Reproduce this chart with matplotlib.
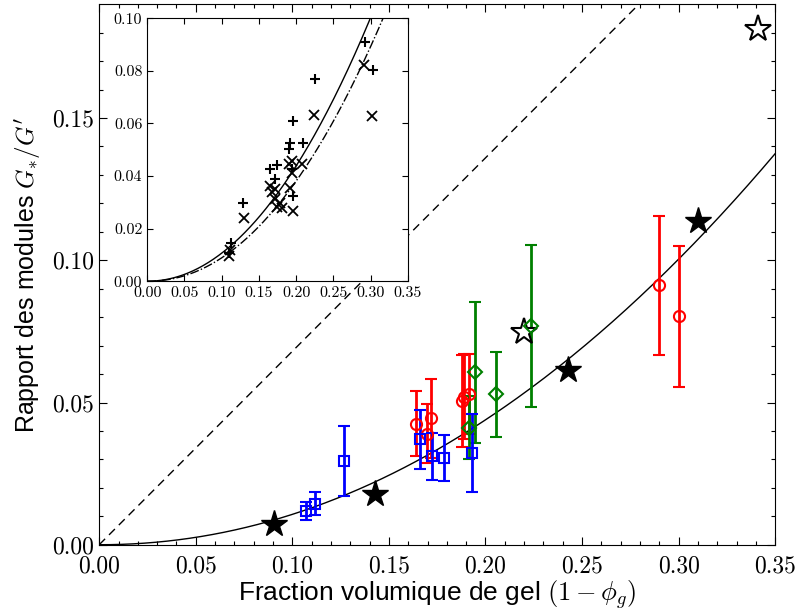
import numpy as np
import matplotlib
matplotlib.use('Agg')
import matplotlib.pyplot as plt

plt.rcParams['mathtext.fontset'] = 'cm'
plt.rcParams['axes.formatter.use_mathtext'] = True
plt.rcParams['font.family'] = ['Liberation Sans', 'DejaVu Sans']

# blue squares
sq_x = [0.1069, 0.1118, 0.1269, 0.1661, 0.1721, 0.1785, 0.1929]
sq_y = [0.0118, 0.0144, 0.0295, 0.0370, 0.0311, 0.0305, 0.0323]
sq_err = [0.0031, 0.0041, 0.0122, 0.0105, 0.0082, 0.0080, 0.0137]

# red circles
ci_x = [0.1640, 0.1695, 0.1718, 0.1876, 0.1890, 0.1915, 0.2897, 0.3000]
ci_y = [0.0426, 0.0391, 0.0444, 0.0505, 0.0520, 0.0530, 0.0912, 0.0803]
ci_err = [0.0113, 0.0105, 0.0140, 0.0162, 0.0150, 0.0142, 0.0245, 0.0247]

# green diamonds
di_x = [0.1916, 0.1946, 0.2056, 0.2234]
di_y = [0.0412, 0.0607, 0.0529, 0.0768]
di_err = [0.0110, 0.0248, 0.0150, 0.0285]

# stars
star_x = [0.0907, 0.1428, 0.2428, 0.3101]
star_y = [0.0072, 0.0180, 0.0613, 0.1138]
ostar_x = [0.2199, 0.3411]
ostar_y = [0.0748, 0.1814]

# inset points
plus_x = [0.2252, 0.2920, 0.3032, 0.1962, 0.2087, 0.1917, 0.1908, 0.1739,
          0.1650, 0.1717, 0.1284, 0.1124, 0.1940, 0.1953, 0.1092]
plus_y = [0.0768, 0.0910, 0.0803, 0.0609, 0.0527, 0.0527, 0.0504, 0.0442,
          0.0428, 0.0387, 0.0296, 0.0146, 0.0425, 0.0324, 0.0108]
cross_x = [0.2238, 0.2911, 0.3023, 0.1092, 0.1105, 0.1293, 0.1953, 0.1940,
           0.1908, 0.1940, 0.1650, 0.1672, 0.1717, 0.1783, 0.1806, 0.2073,
           0.1917, 0.1717, 0.1739]
cross_y = [0.0632, 0.0822, 0.0628, 0.0095, 0.0118, 0.0241, 0.0266, 0.0457,
           0.0444, 0.0412, 0.0362, 0.0339, 0.0311, 0.0298, 0.0279, 0.0444,
           0.0355, 0.0349, 0.0283]

# model curves
xs = np.linspace(0, 0.35, 300)
fit = 0.1375 * (xs / 0.35) ** 2.04
fit2 = 1.12 * xs ** 2.1
lin = 0.68 * xs


def style_axes(ax, size, minor):
    ax.tick_params(which='both', direction='in', top=True, right=True,
                   labelsize=size, labelfontfamily='cmr10', width=0.8)
    ax.tick_params(which='major', length=6)
    ax.tick_params(which='minor', length=3)
    if minor:
        ax.set_xticks(np.arange(0, 0.351, 0.01), minor=True)
        ax.set_yticks(np.arange(0, 0.19, 0.01), minor=True)


fig = plt.figure(figsize=(8, 6.1), dpi=100)
ax = fig.add_axes([0.124, 0.107, 0.845, 0.886])

ax.plot(xs, fit, 'k-', lw=1.0)
ax.plot(xs, lin, 'k-', lw=1.0, dashes=(6, 4))

eb = dict(ls='none', mfc='none', mew=1.5, elinewidth=2, capsize=4.5, capthick=1.5)
ax.errorbar(ci_x, ci_y, yerr=ci_err, marker='o', color='red', ms=8, **eb)
ax.errorbar(di_x, di_y, yerr=di_err, marker='D', color='green', ms=7, **eb)
ax.errorbar(sq_x, sq_y, yerr=sq_err, marker='s', color='blue', ms=7.5, **eb)

ax.plot(star_x, star_y, '*', color='k', ms=20)
ax.plot(ostar_x, ostar_y, '*', mfc='white', mec='k', mew=1.5, ms=20)

ax.set_xlim(0, 0.35)
ax.set_ylim(0, 0.19)
ax.set_xticks(np.arange(0, 0.351, 0.05))
ax.set_yticks(np.arange(0, 0.151, 0.05))
ax.xaxis.set_major_formatter(plt.FormatStrFormatter('%.2f'))
ax.yaxis.set_major_formatter(plt.FormatStrFormatter('%.2f'))
style_axes(ax, 17, True)
ax.tick_params(axis='x', which='major', pad=8)
ax.set_xlabel(r'Fraction volumique de gel $(1-\phi_g)$', fontsize=19, labelpad=0)
ax.set_ylabel(r"Rapport des modules $G_{*}/G'$", fontsize=18, labelpad=7)

# inset
axi = fig.add_axes([0.184, 0.539, 0.326, 0.431])
axi.plot(xs, fit, 'k-', lw=1.0)
axi.plot(xs, fit2, 'k-.', lw=1.0)
axi.plot(plus_x, plus_y, '+', color='k', ms=7.5, mew=1.5)
axi.plot(cross_x, cross_y, 'x', color='k', ms=6.5, mew=1.3)
axi.set_xlim(0, 0.35)
axi.set_ylim(0, 0.10)
axi.set_xticks(np.arange(0, 0.351, 0.05))
axi.set_yticks(np.arange(0, 0.101, 0.02))
axi.xaxis.set_major_formatter(plt.FormatStrFormatter('%.2f'))
axi.yaxis.set_major_formatter(plt.FormatStrFormatter('%.2f'))
style_axes(axi, 11.5, False)
axi.tick_params(which='major', length=4)

fig.savefig('out.png', dpi=100)
